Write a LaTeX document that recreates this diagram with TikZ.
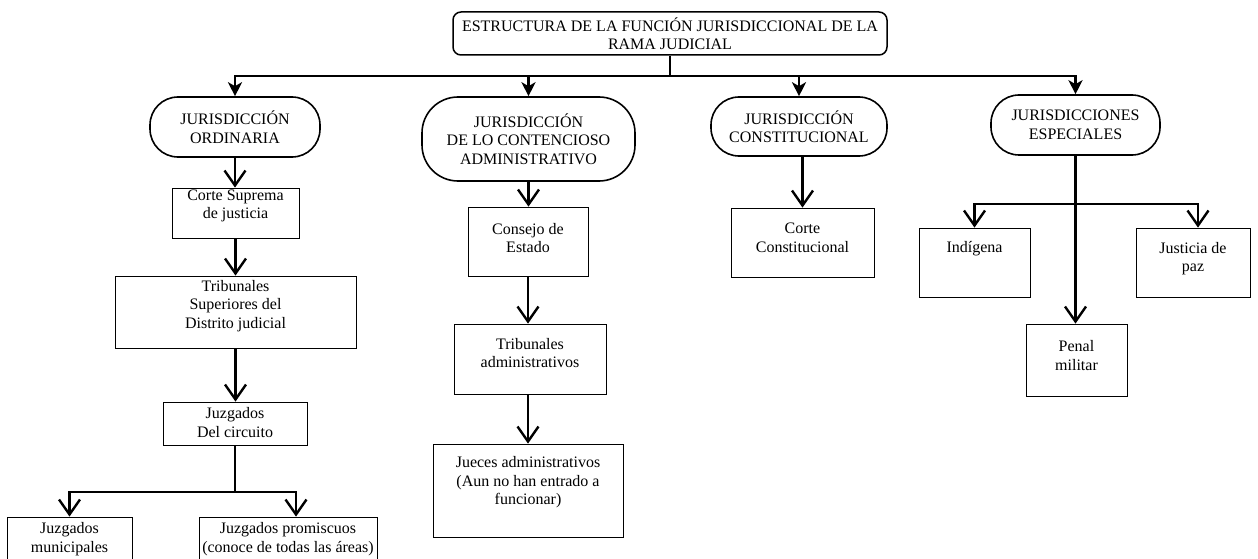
\documentclass[tikz,border=0pt]{standalone}
\usepackage{fontspec}
\setmainfont{Liberation Serif}
\usetikzlibrary{arrows.meta}
\begin{document}
\begin{tikzpicture}[x=1pt,y=-1pt,
  every node/.style={font=\fontsize{16}{18.5}\selectfont, align=center},
  topbox/.style={draw, line width=1.5pt, rounded corners=8pt, inner sep=0pt},
  stad/.style={draw, line width=1.6pt, inner sep=0pt, rounded corners=#1},
  box/.style={draw, line width=0.8pt, inner sep=0pt},
  txt/.style={inner sep=0pt},
  conn/.style={line width=2.6pt},
  arr/.style={conn, -{Straight Barb[length=15pt,width=21pt,line width=2.4pt]}},
  arrs/.style={conn, -{Stealth[length=14pt,width=14pt,inset=4pt]}},
]
\useasboundingbox (0,0) rectangle (1258,559);

% title
\node[topbox, minimum width=434pt, minimum height=43pt] (top) at (670,33.5)
  {ESTRUCTURA DE LA FUNCIÓN JURISDICCIONAL DE LA\\RAMA JUDICIAL};

% jurisdictions
\node[stad=28pt, minimum width=170pt, minimum height=60pt] (ord) at (235,127)
  {JURISDICCIÓN\\ORDINARIA};
\node[stad=36pt, minimum width=213pt, minimum height=84pt] (cont) at (528.5,139)
  {JURISDICCIÓN\\DE LO CONTENCIOSO\\ADMINISTRATIVO};
\node[stad=28pt, minimum width=176pt, minimum height=59pt] (cons) at (799,126.5)
  {JURISDICCIÓN\\CONSTITUCIONAL};
\node[stad=28pt, minimum width=169pt, minimum height=60pt] (esp) at (1075.5,125)
  {JURISDICCIONES\\ESPECIALES};

% boxes (ordinaria)
\node[box, minimum width=127pt, minimum height=50pt] (cs) at (235.5,213) {};
\node[txt] (cs-t) at ([yshift=7pt]cs.center) {Corte Suprema\\de justicia};
\node[box, minimum width=241pt, minimum height=72pt] (ts) at (235.5,312) {};
\node[txt] (ts-t) at ([yshift=6pt]ts.center) {Tribunales\\Superiores del\\Distrito judicial};
\node[box, minimum width=144pt, minimum height=43pt] (jc) at (235,423.5) {};
\node[txt] (jc-t) at ([yshift=1pt]jc.center) {Juzgados\\Del circuito};
\node[box, minimum width=125pt, minimum height=44pt] (mun) at (69.5,539) {};
\node[txt] (mun-t) at (mun.center) {Juzgados\\municipales};
\node[box, minimum width=178pt, minimum height=44pt] (pro) at (288,539) {};
\node[txt] (pro-t) at (pro.center) {Juzgados promiscuos\\(conoce de todas las áreas)};

% boxes (contencioso)
\node[box, minimum width=120pt, minimum height=69pt] (ce) at (528,241.5) {};
\node[txt] (ce-t) at ([yshift=3.5pt]ce.center) {Consejo de\\Estado};
\node[box, minimum width=152pt, minimum height=70pt] (ta) at (530,359) {};
\node[txt] (ta-t) at ([yshift=6pt]ta.center) {Tribunales\\administrativos};
\node[box, minimum width=190pt, minimum height=93pt] (ja) at (528,490.5) {};
\node[txt] (ja-t) at ([yshift=8pt]ja.center) {Jueces administrativos\\(Aun no han entrado a\\funcionar)};

% boxes (constitucional)
\node[box, minimum width=143pt, minimum height=69pt] (cc) at (802.5,242.5) {};
\node[txt] (cc-t) at ([yshift=4.5pt]cc.center) {Corte\\Constitucional};

% boxes (especiales)
\node[box, minimum width=111pt, minimum height=69pt] (ind) at (974.5,262.5) {};
\node[txt] (ind-t) at ([yshift=13.5pt]ind.center) {Indígena};
\node[box, minimum width=114pt, minimum height=69pt] (jp) at (1193,262.5) {};
\node[txt] (jp-t) at ([yshift=4pt]jp.center) {Justicia de\\paz};
\node[box, minimum width=101pt, minimum height=72pt] (pm) at (1076.5,360) {};
\node[txt] (pm-t) at ([yshift=4.5pt]pm.center) {Penal\\militar};

% top connectors
\coordinate (tb) at (top.south |- 0,76);
\draw[conn] (top.south) -- (tb);
\draw[arrs] (tb) -| (ord.north);
\draw[arrs] (tb) -| (cont.north);
\draw[arrs] (tb) -| (cons.north);
\draw[arrs] (tb) -| (esp.north);

% ordinaria chain
\draw[arr] (ord.south) -- (ord.south |- cs.north);
\draw[arr] (cs.south) -- (cs.south |- ts.north);
\draw[arr] (ts.south) -- (ts.south |- jc.north);
\coordinate (jb) at (jc.south |- 0,492);
\draw[conn] (jc.south) -- (jb);
\draw[arr] (jb) -| (mun.north);
\draw[arr] (jb) -| ([xshift=8pt]pro.north);

% contencioso chain
\draw[arr] (cont.south) -- (cont.south |- ce.north);
\draw[arr] (ce.south) -- (ce.south |- ta.north);
\draw[arr] (ce.south |- ta.south) -- (ce.south |- ja.north);

% constitucional
\draw[arr] (cc.north |- cons.south) -- (cc.north);

% especiales
\coordinate (eb) at (esp.south |- 0,204);
\draw[arr] (esp.south) -- (esp.south |- pm.north);
\draw[arr] (eb) -| (ind.north);
\draw[arr] (eb) -| ([xshift=5pt]jp.north);
\end{tikzpicture}
\end{document}
